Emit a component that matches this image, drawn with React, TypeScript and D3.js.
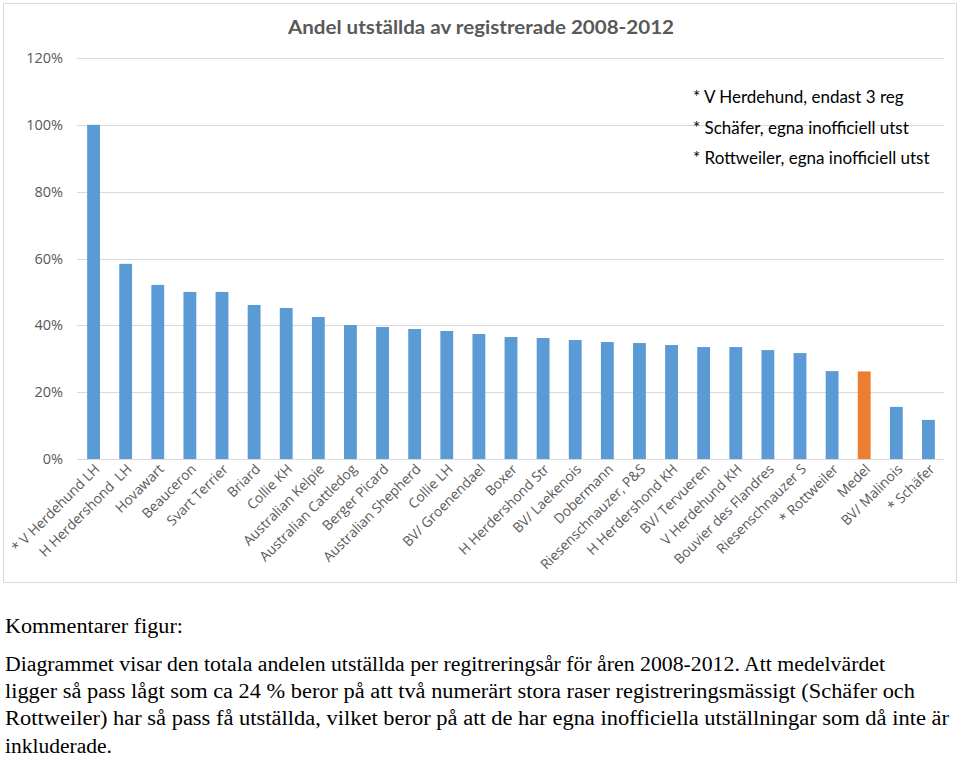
import React from "react";
import * as d3 from "d3";

const categories = [
  "* V Herdehund LH", "H Herdershond  LH", "Hovawart", "Beauceron", "Svart Terrier",
  "Briard", "Collie KH", "Australian Kelpie", "Australian Cattledog", "Berger Picard",
  "Australian Shepherd", "Collie LH", "BV/ Groenendael", "Boxer", "H Herdershond Str",
  "BV/ Laekenois", "Dobermann", "Riesenschnauzer, P&S", "H Herdershond KH", "BV/ Tervueren",
  "V Herdehund KH", "Bouvier des Flandres", "Riesenschnauzer S", "* Rottweiler", "Medel",
  "BV/ Malinois", "* Schäfer",
];
const values = [
  1.0, 0.584, 0.521, 0.5, 0.5, 0.461, 0.452, 0.425, 0.401, 0.395, 0.389, 0.383, 0.374,
  0.365, 0.362, 0.356, 0.35, 0.347, 0.341, 0.335, 0.335, 0.326, 0.317, 0.263, 0.262,
  0.156, 0.117,
];
const highlight = ["Medel"];
const yTicks = [0, 0.2, 0.4, 0.6, 0.8, 1.0, 1.2];
const title = "Andel utställda av registrerade 2008-2012";
const notes = [
  "* V Herdehund, endast 3 reg",
  "* Schäfer, egna inofficiell utst",
  "* Rottweiler, egna inofficiell utst",
];
const commentHead = "Kommentarer figur:";
const commentLines = [
  "Diagrammet visar den totala andelen utställda per regitreringsår för åren 2008-2012. Att medelvärdet",
  "ligger så pass lågt som ca 24 % beror på att två numerärt stora raser registreringsmässigt (Schäfer och",
  "Rottweiler) har så pass få utställda, vilket beror på att de har egna inofficiella utställningar som då inte är",
  "inkluderade.",
];
const commentWidths = [880, 910, 944, 107];

export default function App() {
  const W = 960, H = 757;
  const x = d3.scaleBand<string>().domain(categories).range([77.5, 944.5]).paddingInner(0.6).paddingOuter(0.3);
  const y = d3.scaleLinear().domain([0, 1.2]).range([459, 58]);
  const fmt = d3.format(".0%");
  const sans = "'Open Sans', sans-serif";
  const cal = "Lato, 'Open Sans', sans-serif";
  return (
    <svg width={W} height={H} style={{ position: "absolute", left: 0, top: 0, background: "#fff" }}>
      <rect x={3.5} y={3.5} width={953} height={579} fill="#fff" stroke="#d9d9d9" strokeWidth={1} />
      <text x={481} y={34} textAnchor="middle" fontFamily={cal} fontWeight="bold" fontSize={19} fill="#595959" textLength={386} lengthAdjust="spacingAndGlyphs">{title}</text>
      {yTicks.map((t) => (
        <g key={t}>
          <line x1={77} x2={944} y1={Math.round(y(t)) + 0.5} y2={Math.round(y(t)) + 0.5} stroke="#d9d9d9" strokeWidth={1} />
          <text x={63} y={y(t)} dy="0.35em" textAnchor="end" fontFamily={sans} fontSize={14.5} fill="#595959">{fmt(t)}</text>
        </g>
      ))}
      {categories.map((c, i) => (
        <rect key={c} x={x(c)} y={y(values[i])} width={x.bandwidth()} height={y(0) - y(values[i])}
          fill={highlight.includes(c) ? "#ED7D31" : "#5B9BD5"} />
      ))}
      {categories.map((c) => {
        const cx = (x(c) as number) + x.bandwidth() / 2 + 7;
        return (
          <text key={c} transform={`translate(${cx},${470}) rotate(-45)`} textAnchor="end" fontFamily={sans} fontSize={13.8} fill="#595959" style={{ whiteSpace: "pre" }}>{c}</text>
        );
      })}
      {notes.map((n, i) => (
        <text key={n} x={693} y={103 + i * 30.5} fontFamily={cal} fontSize={17} fill="#000">{n}</text>
      ))}
      <text x={5} y={633} fontFamily="'Liberation Serif', serif" fontSize={20} fill="#000" textLength={178} lengthAdjust="spacingAndGlyphs">{commentHead}</text>
      {commentLines.map((l, i) => (
        <text key={i} x={5} y={671 + i * 27.2} fontFamily="'Liberation Serif', serif" fontSize={20} fill="#000" textLength={commentWidths[i]} lengthAdjust="spacingAndGlyphs">{l}</text>
      ))}
    </svg>
  );
}
